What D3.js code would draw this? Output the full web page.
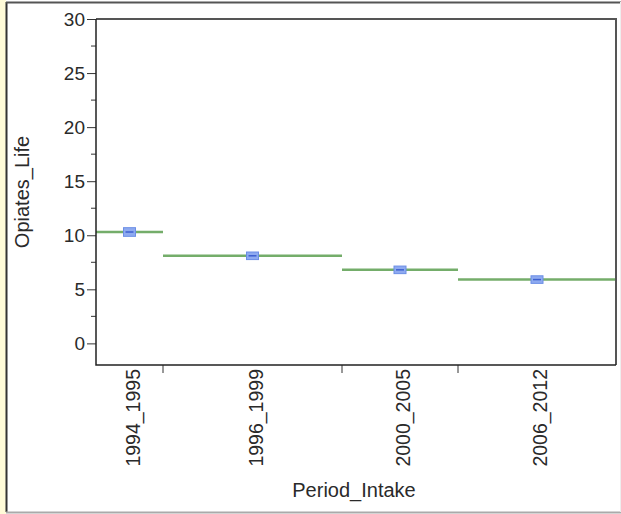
<!DOCTYPE html>
<html>
<head>
<meta charset="utf-8">
<script src="https://cdn.jsdelivr.net/npm/d3@7"></script>
<style>
  html, body { margin: 0; padding: 0; background: #fff; }
  svg { display: block; font-family: "Liberation Sans", Arial, sans-serif; }
</style>
</head>
<body>
<svg id="chart" width="621" height="514"></svg>
<script>
// data
const categories = ["1994_1995", "1996_1999", "2000_2005", "2006_2012"]
const groupSizes = [67, 179, 116, 158]   // widths of the groups on the x axis
const means = [10.3, 8.1, 6.8, 5.9]
const stdErr = [0.4, 0.35, 0.35, 0.35]
const yTicks = [0, 5, 10, 15, 20, 25, 30]

const svg = d3.select("#chart")
const W = 621, H = 514

// outer window frame
svg.append("rect").attr("x", 0).attr("y", 0).attr("width", 6).attr("height", H).attr("fill", "#fffbd8")
svg.append("line").attr("x1", 6.5).attr("x2", 6.5).attr("y1", 2).attr("y2", 512)
  .attr("stroke", "#333").attr("stroke-width", 2)
svg.append("line").attr("x1", 6).attr("x2", W).attr("y1", 2.5).attr("y2", 2.5)
  .attr("stroke", "#555").attr("stroke-width", 2)
svg.append("line").attr("x1", 6).attr("x2", W).attr("y1", 512.5).attr("y2", 512.5)
  .attr("stroke", "#aaa").attr("stroke-width", 2)
svg.append("line").attr("x1", 620.5).attr("x2", 620.5).attr("y1", 2).attr("y2", 512)
  .attr("stroke", "#eee").attr("stroke-width", 1)

const pLeft = 96, pRight = 616, pTop = 19, pBottom = 365

const y = d3.scaleLinear().domain([-2, 30]).range([pBottom, pTop])

// group boundaries (widths proportional to group size)
const total = d3.sum(groupSizes)
const x = d3.scaleLinear().domain([0, total]).range([pLeft, pRight])
const cum = [0]
groupSizes.forEach((n, i) => cum.push(cum[i] + n))
const groups = categories.map((c, i) => ({
  name: c, x0: cum[i], x1: cum[i + 1], mean: means[i], se: stdErr[i]
}))

// y axis with minor ticks
const yAxis = d3.axisLeft(y).tickValues(yTicks).tickSize(9).tickPadding(2)
const ga = svg.append("g").attr("transform", `translate(${pLeft},0)`).call(yAxis)
ga.select(".domain").remove()
ga.selectAll("text").attr("font-size", "19px").attr("fill", "#2a2a2a")
  .attr("font-family", "Liberation Sans, Arial, sans-serif")
ga.selectAll("line").attr("stroke", "#333")
const minor = d3.range(-2.5, 30, 5).filter(v => v >= -2)
svg.append("g").selectAll("line").data(minor).enter().append("line")
  .attr("x1", pLeft - 5).attr("x2", pLeft)
  .attr("y1", d => y(d)).attr("y2", d => y(d))
  .attr("stroke", "#333")

// x axis ticks at group boundaries
svg.append("g").selectAll("line").data(cum.slice(1, -1)).enter().append("line")
  .attr("x1", d => x(d)).attr("x2", d => x(d))
  .attr("y1", pBottom).attr("y2", pBottom + 8)
  .attr("stroke", "#333")

svg.append("g").selectAll("text").data(groups).enter().append("text")
  .attr("transform", d => `translate(${x((d.x0 + d.x1) / 2) + 10},${pBottom + 4}) rotate(-90)`)
  .attr("text-anchor", "end")
  .attr("font-size", "19.5px")
  .attr("fill", "#2a2a2a")
  .text(d => d.name)

// mean lines
svg.append("g").selectAll("line").data(groups).enter().append("line")
  .attr("x1", d => x(d.x0)).attr("x2", d => x(d.x1))
  .attr("y1", d => y(d.mean)).attr("y2", d => y(d.mean))
  .attr("stroke", "#74ad6a").attr("stroke-width", 2.5)

// mean markers with error boxes
const mk = svg.append("g").selectAll("g").data(groups).enter().append("g")
  .attr("transform", d => `translate(${x((d.x0 + d.x1) / 2)},0)`)
mk.append("rect")
  .attr("x", -6).attr("width", 12)
  .attr("y", d => y(d.mean + d.se)).attr("height", d => y(d.mean - d.se) - y(d.mean + d.se))
  .attr("fill", "#8eaaf0").attr("stroke", "#6b8ee6").attr("stroke-width", 1)
mk.append("line")
  .attr("x1", -4).attr("x2", 4)
  .attr("y1", d => y(d.mean)).attr("y2", d => y(d.mean))
  .attr("stroke", "#3c5fcf").attr("stroke-width", 1.5)

// plot frame
svg.append("path")
  .attr("d", `M${pLeft},${pTop}H${pRight}V${pBottom}`)
  .attr("fill", "none").attr("stroke", "#555").attr("stroke-width", 2)
svg.append("path")
  .attr("d", `M${pLeft},${pTop}V${pBottom}H${pRight}`)
  .attr("fill", "none").attr("stroke", "#222").attr("stroke-width", 1.5)

// axis titles
svg.append("text")
  .attr("transform", `translate(29,${(pTop + pBottom) / 2}) rotate(-90)`)
  .attr("text-anchor", "middle")
  .attr("font-size", "20px").attr("fill", "#2a2a2a")
  .text("Opiates_Life")
svg.append("text")
  .attr("x", 354).attr("y", 497)
  .attr("text-anchor", "middle")
  .attr("font-size", "20px").attr("fill", "#2a2a2a")
  .text("Period_Intake")
</script>
</body>
</html>
